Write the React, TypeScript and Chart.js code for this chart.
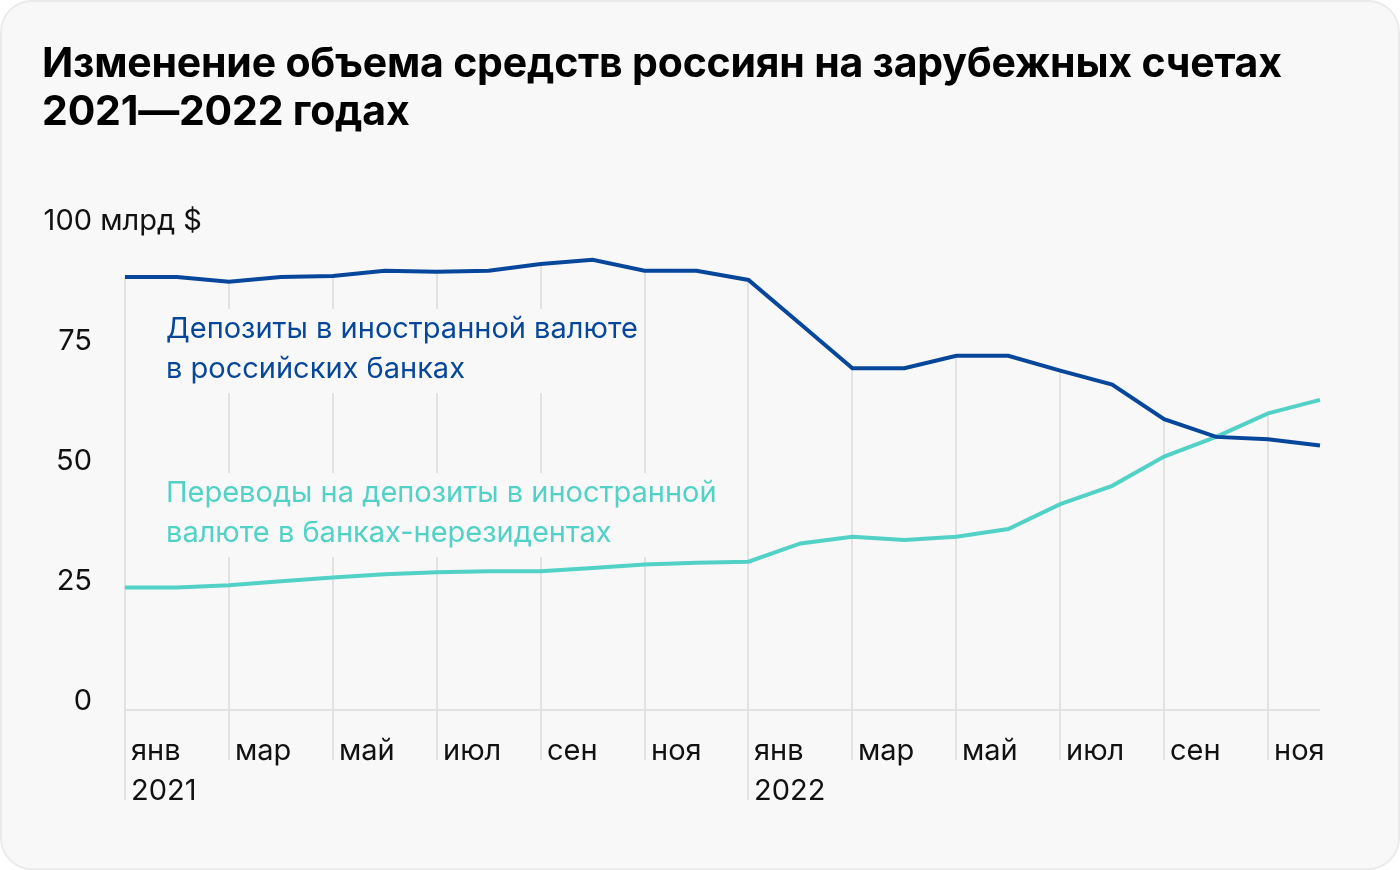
import React, { useEffect, useRef } from 'react';
import { Chart, registerables } from 'chart.js';

Chart.register(...registerables);

const categories = [
  '2021-01', '2021-02', '2021-03', '2021-04', '2021-05', '2021-06',
  '2021-07', '2021-08', '2021-09', '2021-10', '2021-11', '2021-12',
  '2022-01', '2022-02', '2022-03', '2022-04', '2022-05', '2022-06',
  '2022-07', '2022-08', '2022-09', '2022-10', '2022-11', '2022-12',
];

const monthTicks = [
  'янв', '', 'мар', '', 'май', '', 'июл', '', 'сен', '', 'ноя', '',
  'янв', '', 'мар', '', 'май', '', 'июл', '', 'сен', '', 'ноя', '',
];

const yearTicks = [
  '2021', '', '', '', '', '', '', '', '', '', '', '',
  '2022', '', '', '', '', '', '', '', '', '', '', '',
];

const depositsDomestic = [
  90.2, 90.2, 89.2, 90.2, 90.4, 91.5, 91.3, 91.5, 92.9, 93.8, 91.5, 91.5,
  89.6, 80.4, 71.2, 71.2, 73.8, 73.8, 70.7, 67.8, 60.6, 56.9, 56.4, 55.1,
];

const transfersAbroad = [
  25.5, 25.5, 26.0, 26.8, 27.6, 28.3, 28.7, 28.9, 28.9, 29.6, 30.3, 30.7,
  30.9, 34.7, 36.1, 35.4, 36.1, 37.7, 42.9, 46.7, 52.8, 56.9, 61.8, 64.6,
];

const yTicks = [0, 25, 50, 75, 100];
const yUnit = ' млрд $';

const titleLines = ['Изменение объема средств россиян на зарубежных счетах', '2021—2022 годах'];
const depositsLabel = ['Депозиты в иностранной валюте', 'в российских банках'];
const transfersLabel = ['Переводы на депозиты в иностранной', 'валюте в банках-нерезидентах'];

const BLUE = '#07479b';
const TEAL = '#52d1c6';
const CARD_BG = '#f8f8f8';
const GRID = '#e2e2e2';
const FONT = 'Inter, "Noto Sans", sans-serif';

const decorPlugin = {
  id: 'decor',
  beforeDatasetsDraw(chart: any) {
    const { ctx, chartArea } = chart;
    const xs = chart.scales.x;
    const ys = chart.scales.y;
    const y0 = ys.getPixelForValue(0);
    ctx.save();

    // drop lines (vertical grid)
    ctx.strokeStyle = GRID;
    ctx.lineWidth = 2;
    categories.forEach((_, i) => {
      if (!monthTicks[i]) return;
      const px = Math.round(xs.getPixelForValue(i));
      const top = ys.getPixelForValue(Math.max(depositsDomestic[i], transfersAbroad[i]));
      const bottom = yearTicks[i] ? y0 + 90 : y0 + 50;
      ctx.beginPath();
      ctx.moveTo(px, top);
      ctx.lineTo(px, bottom);
      ctx.stroke();
    });

    // x axis line
    ctx.beginPath();
    ctx.moveTo(chartArea.left, Math.round(y0));
    ctx.lineTo(chartArea.right, Math.round(y0));
    ctx.stroke();

    // series annotations with background boxes
    ctx.font = `29px ${FONT}`;
    ctx.textAlign = 'left';
    ctx.textBaseline = 'alphabetic';
    const drawNote = (lines: string[], color: string, x: number, baseline: number) => {
      const w = Math.max(...lines.map((l) => ctx.measureText(l).width));
      ctx.fillStyle = CARD_BG;
      ctx.fillRect(x - 6, baseline - 29, w + 12, lines.length * 40 + 4);
      ctx.fillStyle = color;
      lines.forEach((l, k) => ctx.fillText(l, x, baseline + k * 40));
    };
    drawNote(depositsLabel, BLUE, 166, 338);
    drawNote(transfersLabel, TEAL, 166, 502);

    // y labels
    ctx.fillStyle = '#111111';
    yTicks.forEach((v) => {
      const py = ys.getPixelForValue(v);
      ctx.textAlign = 'right';
      ctx.fillText(String(v), 92, py);
      if (v === yTicks[yTicks.length - 1]) {
        ctx.textAlign = 'left';
        ctx.fillText(yUnit, 92, py);
      }
    });

    // x labels
    ctx.textAlign = 'left';
    categories.forEach((_, i) => {
      const px = Math.round(xs.getPixelForValue(i));
      if (monthTicks[i]) ctx.fillText(monthTicks[i], px + 6, y0 + 50);
      if (yearTicks[i]) ctx.fillText(yearTicks[i], px + 6, y0 + 90);
    });

    ctx.restore();
  },
};

export default function App() {
  const canvasRef = useRef<HTMLCanvasElement | null>(null);

  useEffect(() => {
    if (!canvasRef.current) return;
    const chart = new Chart(canvasRef.current, {
      type: 'line',
      data: {
        labels: categories,
        datasets: [
          {
            label: depositsLabel.join(' '),
            data: depositsDomestic,
            borderColor: BLUE,
            borderWidth: 4,
            pointRadius: 0,
            tension: 0,
            fill: false,
          },
          {
            label: transfersLabel.join(' '),
            data: transfersAbroad,
            borderColor: TEAL,
            borderWidth: 4,
            pointRadius: 0,
            tension: 0,
            fill: false,
          },
        ],
      },
      options: {
        animation: false,
        responsive: false,
        maintainAspectRatio: false,
        layout: { padding: { left: 125, right: 80, top: 230, bottom: 160 } },
        plugins: { legend: { display: false }, tooltip: { enabled: false } },
        scales: {
          x: { display: false, offset: false },
          y: { display: false, min: 0, max: 100 },
        },
      },
      plugins: [decorPlugin],
    });
    return () => chart.destroy();
  }, []);

  return (
    <div style={{ position: 'fixed', left: 0, top: 0, width: 1400, height: 870, background: '#ffffff', overflow: 'hidden' }}>
      <div
        style={{
          position: 'absolute', left: 0, top: 0, width: 1396, height: 866,
          border: '2px solid #ebebeb', borderRadius: 32, background: CARD_BG,
        }}
      />
      <canvas ref={canvasRef} width={1400} height={870} style={{ position: 'absolute', left: 0, top: 0, width: 1400, height: 870 }} />
      <div
        style={{
          position: 'absolute', left: 42, top: 38, fontFamily: FONT, fontWeight: 700,
          fontSize: 41, lineHeight: '48px', color: '#000', whiteSpace: 'nowrap', letterSpacing: -0.2,
        }}
      >
        {titleLines.map((t) => (<div key={t}>{t}</div>))}
      </div>
    </div>
  );
}
